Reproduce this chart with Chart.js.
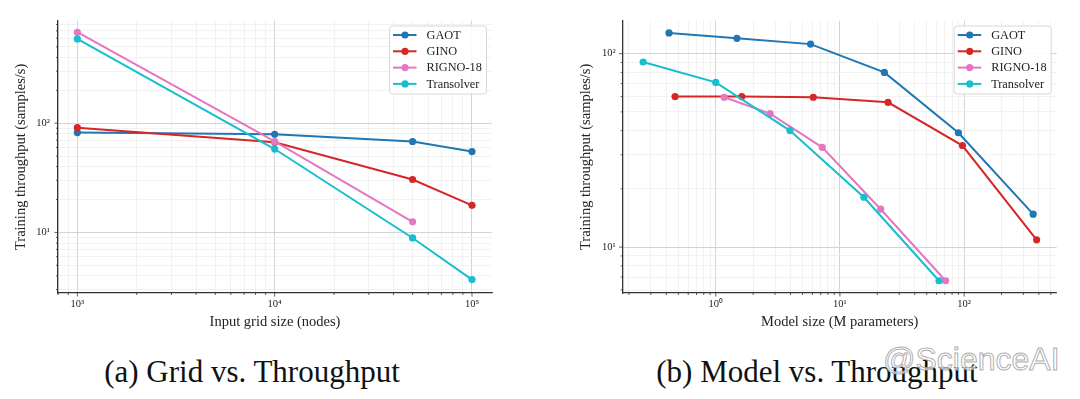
<!DOCTYPE html>
<html>
<head>
<meta charset="utf-8">
<script src="https://cdn.jsdelivr.net/npm/chart.js@4.4.1/dist/chart.umd.min.js"></script>
<style>
  body { margin: 0; background: #fff; }
  #page { position: relative; width: 1080px; height: 399px; overflow: hidden; background: #fff; }
  canvas { position: absolute; top: 0; }
  .caption { position: absolute; top: 356px; width: 400px; text-align: center;
             font: 31px/31px "Liberation Serif", "Times New Roman", serif; color: #111; }
  .mark { position: absolute; left: 883px; top: 343px; font: 32px/32px "Liberation Sans", Arial, sans-serif;
          color: rgba(255,255,255,0.7); -webkit-text-stroke: 1px rgba(160,160,160,0.85); white-space: nowrap; }
</style>
</head>
<body>
<div id="page">
  <canvas id="gridChart" width="540" height="340" style="left:0"></canvas>
  <canvas id="modelChart" width="540" height="340" style="left:540px"></canvas>
  <div class="caption" style="left:52px">(a) Grid vs. Throughput</div>
  <div class="caption" style="left:617px">(b) Model vs. Throughput</div>
  <div class="mark">@ScienceAI</div>
</div>
<script>
// series names and colours (matplotlib tab palette)
const models = ['GAOT', 'GINO', 'RIGNO-18', 'Transolver'];
const colors = ['#1f77b4', '#d62728', '#e377c2', '#17becf'];

// (a) training throughput vs input grid size (nodes)
const gridSizes = [1e3, 1e4, 5e4, 1e5];
const gridGAOT = [82, 79, 68, 55];
const gridGINO = [91, 67, 30.5, 17.7];
const gridRIGNO = [680, 68, 12.5];
const gridTransolver = [590, 58, 8.9, 3.7];

// (b) training throughput vs model size (M parameters)
const paramsGAOT = [0.42, 1.48, 5.8, 22.8, 90, 360];
const tputGAOT = [128, 120, 112, 80, 39, 14.8];
const paramsGINO = [0.47, 1.62, 6.1, 24.4, 97, 384];
const tputGINO = [60, 60, 59.5, 56, 33.5, 10.9];
const paramsRIGNO = [1.17, 2.74, 7.2, 21.3, 71];
const tputRIGNO = [59.5, 49, 32.8, 15.7, 6.7];
const paramsTransolver = [0.26, 1.0, 3.96, 15.6, 62.8];
const tputTransolver = [90.5, 71, 40, 18.1, 6.7];

// tick labels (only decades are labelled)
const gridXTicks = [1e3, 1e4, 1e5];
const gridXLabels = ['10³', '10⁴', '10⁵'];
const gridYTicks = [10, 100];
const gridYLabels = ['10¹', '10²'];
const modelXTicks = [1, 10, 100];
const modelXLabels = ['10⁰', '10¹', '10²'];
const modelYTicks = [10, 100];
const modelYLabels = ['10¹', '10²'];

const SERIF = '"Liberation Serif", "Times New Roman", serif';

function isDecade(v) {
  const e = Math.log10(v);
  return Math.abs(e - Math.round(e)) < 1e-9;
}

// 1..9 x 10^k inside [min, max], like matplotlib's log locator
function logTicks(min, max) {
  const out = [];
  for (let k = Math.floor(Math.log10(min)); k <= Math.ceil(Math.log10(max)); k++) {
    for (let m = 1; m <= 9; m++) {
      const v = Number((m * Math.pow(10, k)).toPrecision(6));
      if (v >= min && v <= max) out.push({ value: v, major: m === 1 });
    }
  }
  return out;
}

function labelFor(values, labels) {
  return v => {
    const i = values.findIndex(t => Math.abs(Math.log10(t) - Math.log10(v)) < 1e-9);
    return i >= 0 ? labels[i] : '';
  };
}

function series(i, xs, ys) {
  return {
    label: models[i],
    data: xs.map((x, j) => ({ x: x, y: ys[j] })),
    borderColor: colors[i],
    backgroundColor: colors[i],
    pointBackgroundColor: colors[i],
    pointBorderWidth: 0,
    pointRadius: 3.6,
    pointHoverRadius: 3.6,
    borderWidth: 2,
    showLine: true,
    order: -i
  };
}

// small outward tick marks, long on decades
const tickMarks = {
  id: 'tickMarks',
  afterDraw(chart) {
    const { ctx, chartArea: a } = chart;
    ctx.save();
    ctx.strokeStyle = '#333';
    ctx.lineWidth = 0.8;
    for (const s of [chart.scales.x, chart.scales.y]) {
      s.ticks.forEach(t => {
        const len = isDecade(t.value) ? 3.5 : 2;
        const p = s.getPixelForValue(t.value);
        ctx.beginPath();
        if (s.axis === 'x') { ctx.moveTo(p, a.bottom); ctx.lineTo(p, a.bottom + len); }
        else { ctx.moveTo(a.left, p); ctx.lineTo(a.left - len, p); }
        ctx.stroke();
      });
    }
    ctx.restore();
  }
};

// matplotlib style legend box in the upper right
const boxLegend = {
  id: 'boxLegend',
  afterDraw(chart) {
    const { ctx, chartArea: a } = chart;
    const w = 97, h = 68;
    const x0 = a.right - 5.5 - w, y0 = 26;
    ctx.save();
    ctx.beginPath();
    ctx.roundRect(x0, y0, w, h, 3);
    ctx.fillStyle = 'rgba(255,255,255,0.85)';
    ctx.fill();
    ctx.strokeStyle = '#d8d8d8';
    ctx.lineWidth = 1;
    ctx.stroke();
    chart.data.datasets.forEach((ds, i) => {
      const y = y0 + 9 + i * 16.3;
      ctx.strokeStyle = ds.borderColor;
      ctx.lineWidth = 2;
      ctx.beginPath();
      ctx.moveTo(x0 + 3.5, y);
      ctx.lineTo(x0 + 27, y);
      ctx.stroke();
      ctx.fillStyle = ds.borderColor;
      ctx.beginPath();
      ctx.arc(x0 + 15.5, y, 3.6, 0, 2 * Math.PI);
      ctx.fill();
      ctx.fillStyle = '#222';
      ctx.font = '12.3px ' + SERIF;
      ctx.textBaseline = 'middle';
      ctx.fillText(ds.label, x0 + 37, y + 0.5);
    });
    ctx.restore();
  }
};

function axis(opts) {
  return {
    type: 'logarithmic',
    bounds: 'data',
    min: opts.min,
    max: opts.max,
    afterFit: opts.fit,
    afterBuildTicks: s => { s.ticks = logTicks(s.min, s.max); },
    grid: {
      drawTicks: false,
      color: c => (c.tick && isDecade(c.tick.value)) ? '#cfcfcf' : '#ececec',
      lineWidth: c => (c.tick && isDecade(c.tick.value)) ? 0.9 : 0.7
    },
    border: { color: '#333', width: 1.3 },
    ticks: {
      autoSkip: false,
      maxRotation: 0,
      padding: opts.tickPad,
      color: '#222',
      font: { family: SERIF, size: 10.5 },
      callback: labelFor(opts.tickValues, opts.tickLabels)
    },
    title: {
      display: true,
      text: opts.title,
      color: '#222',
      font: { family: SERIF, size: 14.5 },
      padding: opts.titlePad
    }
  };
}

function makeChart(id, datasets, o) {
  return new Chart(document.getElementById(id), {
    type: 'scatter',
    data: { datasets: datasets },
    options: {
      responsive: false,
      animation: false,
      layout: { padding: { top: 20.7, right: o.padRight, left: 0, bottom: 0 } },
      plugins: { legend: { display: false }, tooltip: { enabled: false } },
      scales: { x: o.x, y: o.y }
    },
    plugins: [tickMarks, boxLegend]
  });
}

makeChart('gridChart', [
  series(0, gridSizes, gridGAOT),
  series(1, gridSizes, gridGINO),
  series(2, gridSizes.slice(0, gridRIGNO.length), gridRIGNO),
  series(3, gridSizes, gridTransolver)
], {
  padRight: 48,
  x: axis({ min: 798, max: 126300, fit: s => { s.height = 47; }, tickPad: 5,
            tickValues: gridXTicks, tickLabels: gridXLabels,
            title: 'Input grid size (nodes)', titlePad: { top: 0, bottom: 9.6 } }),
  y: axis({ min: 2.79, max: 867, fit: s => { s.width = 58; }, tickPad: 8,
            tickValues: gridYTicks, tickLabels: gridYLabels,
            title: 'Training throughput (samples/s)', titlePad: { top: 12.6, bottom: 0 } })
});

makeChart('modelChart', [
  series(0, paramsGAOT, tputGAOT),
  series(1, paramsGINO, tputGINO),
  series(2, paramsRIGNO, tputRIGNO),
  series(3, paramsTransolver, tputTransolver)
], {
  padRight: 23.3,
  x: axis({ min: 0.178, max: 557, fit: s => { s.height = 47; }, tickPad: 5,
            tickValues: modelXTicks, tickLabels: modelXLabels,
            title: 'Model size (M parameters)', titlePad: { top: 0, bottom: 9.6 } }),
  y: axis({ min: 5.79, max: 148, fit: s => { s.width = 82.7; }, tickPad: 7,
            tickValues: modelYTicks, tickLabels: modelYLabels,
            title: 'Training throughput (samples/s)', titlePad: { top: 37, bottom: 0 } })
});
</script>
</body>
</html>
